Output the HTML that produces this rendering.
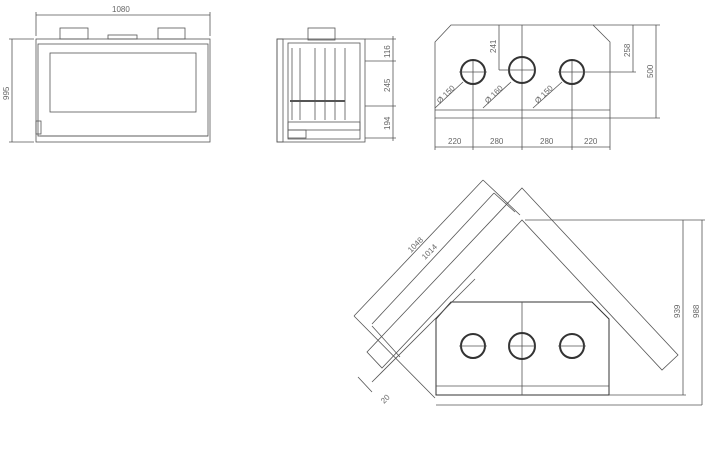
<!DOCTYPE html>
<html><head><meta charset="utf-8"><style>
html,body{margin:0;padding:0;background:#fff;}
svg{display:block;font-family:"Liberation Sans",sans-serif;}
text{fill:#666;font-size:8px;}
</style></head><body>
<svg width="710" height="475" viewBox="0 0 710 475" xmlns="http://www.w3.org/2000/svg">
<g stroke="#555" stroke-width="0.8" fill="none">
<!-- front view -->
<rect x="36" y="39" width="174" height="103"/>
<rect x="38" y="44" width="170" height="92"/>
<rect x="50" y="53" width="146" height="59"/>
<rect x="60" y="28" width="28" height="11"/>
<rect x="108" y="35" width="29" height="4"/>
<rect x="158" y="28" width="27" height="11"/>
<rect x="36" y="121" width="5" height="13"/>
<line x1="40" y1="136" x2="208" y2="136"/>
<line x1="36" y1="15" x2="210" y2="15"/>
<line x1="36" y1="12" x2="36" y2="36"/><line x1="210" y1="12" x2="210" y2="36"/>
<line x1="12" y1="39" x2="12" y2="142"/>
<line x1="9" y1="39" x2="34" y2="39"/><line x1="9" y1="142" x2="34" y2="142"/>
<!-- side view -->
<rect x="277" y="39" width="88" height="103"/>
<rect x="277" y="39" width="6" height="103"/>
<rect x="288" y="43" width="72" height="96"/>
<rect x="308" y="28" width="27" height="12"/>
<line x1="292" y1="48" x2="292" y2="120"/>
<line x1="300" y1="48" x2="300" y2="120"/>
<line x1="315" y1="48" x2="315" y2="120"/>
<line x1="325" y1="48" x2="325" y2="120"/>
<line x1="335" y1="48" x2="335" y2="120"/>
<line x1="345" y1="48" x2="345" y2="120"/>
<line x1="290" y1="101" x2="345" y2="101" stroke-width="2"/>
<rect x="288" y="122" width="72" height="8"/>
<rect x="288" y="130" width="18" height="8"/>
<line x1="365" y1="39" x2="396" y2="39"/><line x1="365" y1="61" x2="396" y2="61"/>
<line x1="365" y1="106" x2="396" y2="106"/><line x1="365" y1="138" x2="396" y2="138"/>
<line x1="393" y1="36" x2="393" y2="141"/>
<!-- top view -->
<path d="M451 25 L593 25 L610 42 L610 118 L435 118 L435 42 Z"/>
<line x1="435" y1="110" x2="610" y2="110"/>
<line x1="522" y1="25" x2="522" y2="150"/>
<line x1="473" y1="60" x2="473" y2="150"/>
<line x1="572" y1="60" x2="572" y2="150"/>
<line x1="435" y1="118" x2="435" y2="150"/><line x1="610" y1="118" x2="610" y2="150"/>
<line x1="435" y1="147" x2="610" y2="147"/>
<line x1="499" y1="25" x2="499" y2="70"/><line x1="499" y1="70" x2="508" y2="70"/>
<line x1="593" y1="25" x2="660" y2="25"/>
<line x1="586" y1="72" x2="636" y2="72"/>
<line x1="610" y1="118" x2="660" y2="118"/>
<line x1="633" y1="25" x2="633" y2="72"/>
<line x1="656" y1="25" x2="656" y2="118"/>
<line x1="435" y1="108" x2="463" y2="82"/>
<line x1="483" y1="108" x2="511" y2="82"/>
<line x1="533" y1="108" x2="562" y2="82"/>
</g>
<g stroke="#333" stroke-width="2" fill="none">
<circle cx="473" cy="72" r="12"/>
<circle cx="522" cy="70" r="13"/>
<circle cx="572" cy="72" r="12"/>
</g>
<g stroke="#555" stroke-width="0.8" fill="none">
<line x1="459" y1="72" x2="487" y2="72"/><line x1="508" y1="70" x2="536" y2="70"/><line x1="558" y1="72" x2="586" y2="72"/>
<!-- bottom plan -->
<path d="M451 302 L592 302 L609 319 L609 395 L436 395 L436 319 Z" stroke="#333" stroke-width="1"/>
<line x1="436" y1="386" x2="609" y2="386"/>
<line x1="522" y1="302" x2="522" y2="395"/>
<line x1="436" y1="405" x2="702" y2="405"/>
<path d="M522 188 L678 355 L662 370 L522 220 L382 368 L367 352 Z"/>
<line x1="525" y1="220" x2="705" y2="220"/>
<line x1="609" y1="395" x2="686" y2="395"/>
<line x1="683" y1="220" x2="683" y2="395"/>
<line x1="702" y1="220" x2="702" y2="405"/>
<line x1="483" y1="180" x2="354" y2="316"/>
<line x1="494" y1="193" x2="372" y2="324"/>
<line x1="483" y1="180" x2="520" y2="215"/>
<line x1="494" y1="193" x2="515" y2="212"/>
<line x1="354" y1="316" x2="435" y2="398"/>
<line x1="372" y1="326" x2="400" y2="357"/>
<line x1="372" y1="382" x2="475" y2="279"/>
<line x1="358" y1="377" x2="372" y2="392"/>
</g>
<g stroke="#333" stroke-width="2" fill="none">
<circle cx="473" cy="346" r="12"/>
<circle cx="522" cy="346" r="13"/>
<circle cx="572" cy="346" r="12"/>
</g>
<g stroke="#555" stroke-width="0.8">
<line x1="459" y1="346" x2="487" y2="346"/><line x1="558" y1="346" x2="586" y2="346"/><line x1="508" y1="346" x2="536" y2="346"/>
</g>
<text x="112" y="12">1080</text>
<text transform="translate(9 100) rotate(-90)">995</text>
<text transform="translate(390 58) rotate(-90)">116</text>
<text transform="translate(390 92) rotate(-90)">245</text>
<text transform="translate(390 130) rotate(-90)">194</text>
<text transform="translate(496 53) rotate(-90)">241</text>
<text transform="translate(630 57) rotate(-90)">258</text>
<text transform="translate(653 78) rotate(-90)">500</text>
<text x="448" y="144">220</text><text x="490" y="144">280</text>
<text x="540" y="144">280</text><text x="584" y="144">220</text>
<text transform="translate(440 104) rotate(-45)">Ø 150</text>
<text transform="translate(488 104) rotate(-45)">Ø 160</text>
<text transform="translate(538 104) rotate(-45)">Ø 150</text>
<text transform="translate(411 253) rotate(-45)">1048</text>
<text transform="translate(425 260) rotate(-45)">1014</text>
<text transform="translate(680 318) rotate(-90)">939</text>
<text transform="translate(699 318) rotate(-90)">988</text>
<text transform="translate(384 404) rotate(-45)">20</text>
</svg>
</body></html>
